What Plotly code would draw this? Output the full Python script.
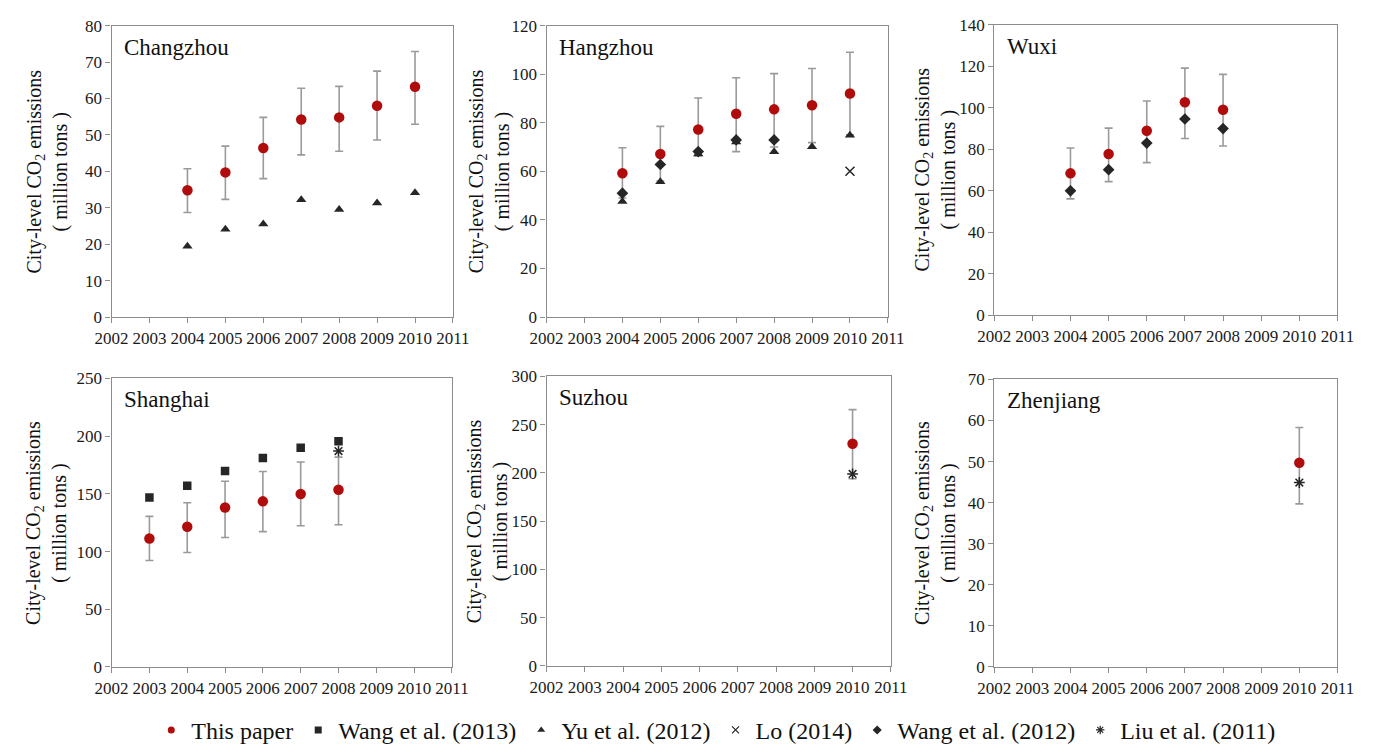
import plotly.graph_objects as go

# ---------------- data ----------------
tick_years = [2002, 2003, 2004, 2005, 2006, 2007, 2008, 2009, 2010, 2011]

changzhou_years = [2004, 2005, 2006, 2007, 2008, 2009, 2010]
changzhou_this = [34.8, 39.7, 46.4, 54.2, 54.8, 58.0, 63.2]
changzhou_this_hi = [40.7, 46.9, 54.8, 62.8, 63.3, 67.5, 72.9]
changzhou_this_lo = [28.7, 32.3, 38.0, 44.5, 45.5, 48.6, 52.9]
changzhou_yu2012 = [19.4, 24.1, 25.5, 32.2, 29.5, 31.3, 34.1]

hangzhou_years = [2004, 2005, 2006, 2007, 2008, 2009, 2010]
hangzhou_this = [59.2, 67.1, 77.2, 83.7, 85.5, 87.2, 92.0]
hangzhou_this_hi = [69.7, 78.5, 90.2, 98.5, 100.2, 102.3, 109.0]
hangzhou_this_lo = [49.0, 56.0, 66.4, 68.1, 70.0, 71.8, 75.0]
hangzhou_yu2012 = [47.6, 55.7, 67.1, 72.1, 68.0, 70.1, 74.8]
hangzhou_wang2012_years = [2004, 2005, 2006, 2007, 2008]
hangzhou_wang2012 = [51.0, 62.8, 68.1, 72.9, 72.9]
hangzhou_lo2014_years = [2010]
hangzhou_lo2014 = [60.0]

wuxi_years = [2004, 2005, 2006, 2007, 2008]
wuxi_this = [68.3, 77.6, 88.8, 102.6, 99.0]
wuxi_this_hi = [80.5, 90.1, 103.2, 119.0, 116.0]
wuxi_this_lo = [56.0, 64.3, 73.5, 85.1, 81.5]
wuxi_wang2012 = [59.9, 70.1, 82.9, 94.5, 89.9]

shanghai_years = [2003, 2004, 2005, 2006, 2007, 2008]
shanghai_this = [111.3, 121.5, 138.1, 143.5, 149.9, 153.6]
shanghai_this_hi = [130.5, 142.3, 160.9, 169.4, 177.6, 181.8]
shanghai_this_lo = [92.2, 99.2, 112.2, 117.3, 122.3, 123.2]
shanghai_wang2013 = [146.8, 157.0, 169.7, 181.0, 190.0, 195.6]
shanghai_liu2011_years = [2008]
shanghai_liu2011 = [187.1]

suzhou_years = [2010]
suzhou_this = [230.3]
suzhou_this_hi = [265.7]
suzhou_this_lo = [194.0]
suzhou_liu2011 = [199.0]

zhenjiang_years = [2010]
zhenjiang_this = [49.7]
zhenjiang_this_hi = [58.3]
zhenjiang_this_lo = [39.7]
zhenjiang_liu2011 = [44.9]

legend_names = ["This paper", "Wang et al. (2013)", "Yu et al. (2012)",
                "Lo (2014)", "Wang et al. (2012)", "Liu et al. (2011)"]

# ---------------- style ----------------
W, H = 1373, 753
RED = "#B00C0C"
DARK = "#262626"
GRAY = "#9a9a9a"
FRAME = "#8c8c8c"
FONT = "'Liberation Serif', 'Times New Roman', Times, serif"

STY = {
    "This paper": dict(symbol="circle", color=RED, size=10.5, lw=0),
    "Wang et al. (2013)": dict(symbol="square", color=DARK, size=8.5, lw=0),
    "Yu et al. (2012)": dict(symbol="triangle-up", color=DARK, size=9, lw=0),
    "Lo (2014)": dict(symbol="x-thin-open", color=DARK, size=9, lw=1.5),
    "Wang et al. (2012)": dict(symbol="diamond", color=DARK, size=9, lw=0),
    "Liu et al. (2011)": dict(symbol="asterisk-open", color=DARK, size=9, lw=1.5),
}

# panel pixel boxes: (left, right, top, bottom), y max, y step, title x centre
panels = [
    ("Changzhou", (97, 447, 17, 316), 80, 10, 31),
    ("Hangzhou", (543, 893, 17, 316), 120, 20, 484),
    ("Wuxi", (1002, 1354, 16, 314), 140, 20, 942),
    ("Shanghai", (97, 446, 379, 675), 250, 50, 30),
    ("Suzhou", (543, 896, 377, 674), 300, 50, 482),
    ("Zhenjiang", (1002, 1354, 380, 675), 70, 10, 941),
]

fig = go.Figure()


def add_series(i, name, xs, ys, hi=None, lo=None):
    s = STY[name]
    ax = "" if i == 1 else str(i)
    err = None
    if hi is not None:
        err = dict(type="data", symmetric=False,
                   array=[h - v for h, v in zip(hi, ys)],
                   arrayminus=[v - l for v, l in zip(ys, lo)],
                   color=GRAY, thickness=1.6, width=4)
    fig.add_trace(go.Scatter(
        x=xs, y=ys, mode="markers", name=name, showlegend=False,
        xaxis="x" + ax, yaxis="y" + ax, error_y=err,
        marker=dict(symbol=s["symbol"], color=s["color"], size=s["size"],
                    line=dict(width=s["lw"], color=s["color"])),
    ))


# Changzhou
add_series(1, "This paper", changzhou_years, changzhou_this, changzhou_this_hi, changzhou_this_lo)
add_series(1, "Yu et al. (2012)", changzhou_years, changzhou_yu2012)
# Hangzhou
add_series(2, "This paper", hangzhou_years, hangzhou_this, hangzhou_this_hi, hangzhou_this_lo)
add_series(2, "Yu et al. (2012)", hangzhou_years, hangzhou_yu2012)
add_series(2, "Wang et al. (2012)", hangzhou_wang2012_years, hangzhou_wang2012)
add_series(2, "Lo (2014)", hangzhou_lo2014_years, hangzhou_lo2014)
# Wuxi
add_series(3, "This paper", wuxi_years, wuxi_this, wuxi_this_hi, wuxi_this_lo)
add_series(3, "Wang et al. (2012)", wuxi_years, wuxi_wang2012)
# Shanghai
add_series(4, "This paper", shanghai_years, shanghai_this, shanghai_this_hi, shanghai_this_lo)
add_series(4, "Wang et al. (2013)", shanghai_years, shanghai_wang2013)
add_series(4, "Liu et al. (2011)", shanghai_liu2011_years, shanghai_liu2011)
# Suzhou
add_series(5, "This paper", suzhou_years, suzhou_this, suzhou_this_hi, suzhou_this_lo)
add_series(5, "Liu et al. (2011)", suzhou_years, suzhou_liu2011)
# Zhenjiang
add_series(6, "This paper", zhenjiang_years, zhenjiang_this, zhenjiang_this_hi, zhenjiang_this_lo)
add_series(6, "Liu et al. (2011)", zhenjiang_years, zhenjiang_liu2011)

# legend-only entries with small markers
for name in legend_names:
    s = STY[name]
    fig.add_trace(go.Scatter(
        x=[None], y=[None], mode="markers", name=name, showlegend=True,
        marker=dict(symbol=s["symbol"], color=s["color"], size=7,
                    line=dict(width=1.2 if s["lw"] else 0, color=s["color"])),
    ))

layout = dict(
    width=W, height=H,
    margin=dict(l=0, r=0, t=0, b=0),
    paper_bgcolor="white", plot_bgcolor="white",
    font=dict(family=FONT, size=17, color="#1a1a1a"),
    showlegend=True,
    legend=dict(orientation="h", x=717 / W, xanchor="center",
                y=1 - 740 / H, yanchor="middle",
                font=dict(family=FONT, size=24, color="#111"),
                itemwidth=30, tracegroupgap=0, bgcolor="rgba(0,0,0,0)"),
)

annotations = []
for i, (city, (l, r, t, b), ymax, dt, title_x) in enumerate(panels, start=1):
    ax = "" if i == 1 else str(i)
    layout["xaxis" + ax] = dict(
        domain=[l / W, r / W], anchor="y" + ax,
        range=[tick_years[0], tick_years[-1]], tickmode="array",
        tickvals=tick_years, ticktext=[str(v) for v in tick_years],
        showgrid=False, zeroline=False, showline=True, linecolor=FRAME,
        linewidth=1.3, mirror=True, ticks="outside", ticklen=5,
        tickcolor=FRAME, tickfont=dict(family=FONT, size=17, color="#1a1a1a"),
    )
    layout["yaxis" + ax] = dict(
        domain=[1 - b / H, 1 - t / H], anchor="x" + ax,
        range=[0, ymax], dtick=dt, tick0=0,
        showgrid=False, zeroline=False, showline=True, linecolor=FRAME,
        linewidth=1.3, mirror=True, ticks="outside", ticklen=5,
        tickcolor=FRAME, tickfont=dict(family=FONT, size=17, color="#1a1a1a"),
    )
    annotations.append(dict(
        text=city, xref="x" + ax + " domain", yref="y" + ax + " domain",
        x=0.031, y=0.926, xanchor="left", yanchor="middle", showarrow=False,
        font=dict(family=FONT, size=23, color="#111"),
    ))
    annotations.append(dict(
        text="City-level CO<sub>2</sub> emissions<br>( million tons )",
        xref="paper", yref="y" + ax + " domain",
        x=title_x / W, y=0.5, xanchor="center", yanchor="middle",
        textangle=-90, showarrow=False,
        font=dict(family=FONT, size=20, color="#111"),
    ))
layout["annotations"] = annotations

fig.update_layout(**layout)
fig.write_html("out.html")
